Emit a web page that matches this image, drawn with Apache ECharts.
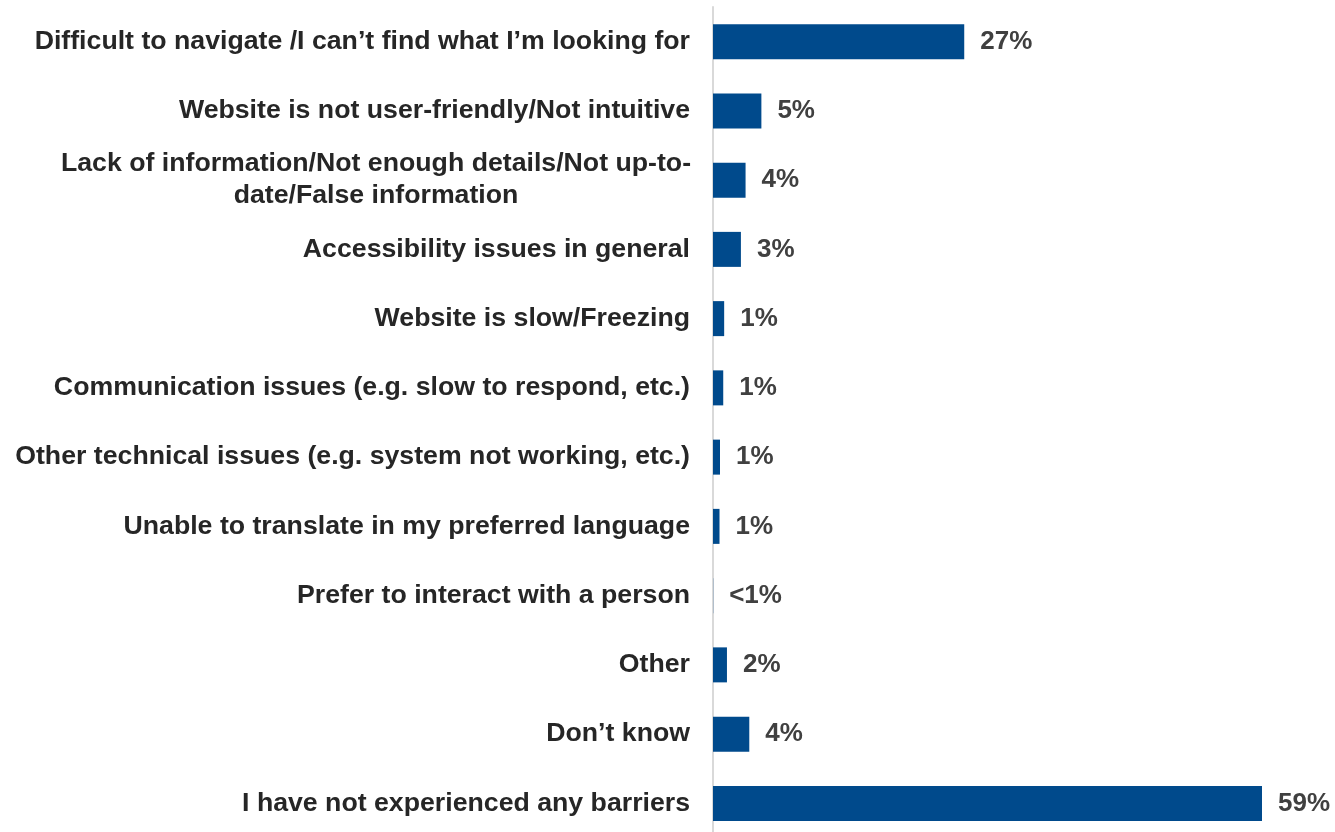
<!DOCTYPE html>
<html>
<head>
<meta charset="utf-8">
<script src="https://cdn.jsdelivr.net/npm/echarts@6/dist/echarts.min.js"></script>
<style>
html,body{margin:0;padding:0;background:#fff;overflow:hidden;}
#chart{width:1335px;height:846px;}
</style>
</head>
<body>
<div id="chart"></div>
<script>
const categories = [
  "Difficult to navigate /I can\u2019t find what I\u2019m looking for",
  "Website is not user-friendly/Not intuitive",
  "Lack of information/Not enough details/Not up-to-\ndate/False information",
  "Accessibility issues in general",
  "Website is slow/Freezing",
  "Communication issues (e.g. slow to respond, etc.)",
  "Other technical issues (e.g. system not working, etc.)",
  "Unable to translate in my preferred language",
  "Prefer to interact with a person",
  "Other",
  "Don\u2019t know",
  "I have not experienced any barriers"
];
const values = [27, 5.2, 3.5, 3.0, 1.2, 1.1, 0.75, 0.7, 0.02, 1.5, 3.9, 59];
const valueLabels = ["27%", "5%", "4%", "3%", "1%", "1%", "1%", "1%", "<1%", "2%", "4%", "59%"];

const FONT = "'Liberation Sans', Arial, sans-serif";
const chart = echarts.init(document.getElementById('chart'), null, {renderer: 'canvas'});
chart.setOption({
  animation: false,
  backgroundColor: '#ffffff',
  grid: {left: 713, right: 73, top: 7, height: 831, containLabel: false},
  xAxis: {
    type: 'value', min: 0, max: 59, show: false
  },
  yAxis: {
    type: 'category',
    data: categories,
    inverse: true,
    axisLine: {show: true, lineStyle: {color: '#d9d9d9', width: 2}},
    axisTick: {show: false},
    axisLabel: {
      margin: 23,
      fontFamily: FONT,
      fontWeight: 'bold',
      fontSize: 26.7,
      color: '#262626',
      lineHeight: 32,
      formatter: function (v) {
        if (v.indexOf('\n') >= 0) {
          return v.split('\n').map(function (s) { return '{c|' + s + '}'; }).join('\n');
        }
        return v;
      },
      rich: {
        c: {
          width: 628, align: 'center',
          fontFamily: FONT,
          fontWeight: 'bold', fontSize: 26.7, color: '#262626', lineHeight: 32
        }
      }
    }
  },
  series: [{
    type: 'bar',
    data: values,
    barWidth: 35,
    itemStyle: {color: '#004A8C'},
    label: {
      show: true,
      position: 'right',
      distance: 16,
      fontFamily: FONT,
      fontWeight: 'bold',
      fontSize: 26,
      color: '#404040',
      formatter: function (p) { return valueLabels[p.dataIndex]; }
    }
  }]
});
</script>
</body>
</html>
